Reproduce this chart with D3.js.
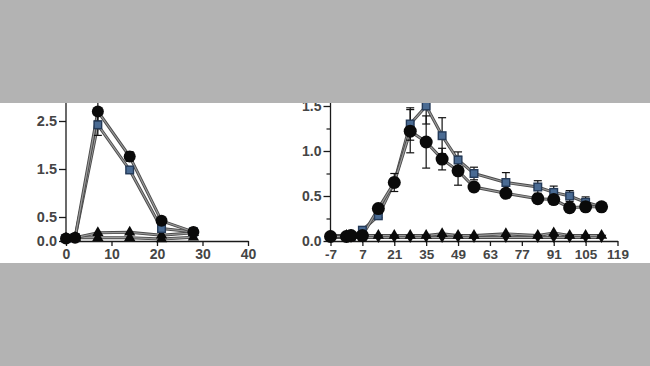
<!DOCTYPE html>
<html><head><meta charset="utf-8">
<script src="https://cdn.jsdelivr.net/npm/d3@7"></script>
<style>body{margin:0;background:#b3b3b3;} svg{display:block;}</style>
</head><body>
<svg id="c" width="650" height="366"></svg>
<script>
// ---- data ----
const leftDays = [0, 2, 7, 14, 21, 28];
const leftCircle = [0.05, 0.07, 2.70, 1.76, 0.42, 0.19];
const leftCircleErr = [0, 0, 0.20, 0.10, 0.07, 0.03];
const leftSquare = [0.05, 0.07, 2.42, 1.48, 0.26, 0.19];
const leftSquareErr = [0, 0, 0.22, 0.06, 0.05, 0.02];
const leftTriA = [0.05, 0.07, 0.17, 0.18, 0.12, 0.17];
const leftTriB = [0.05, 0.07, 0.07, 0.07, 0.04, 0.08];
const leftXTicks = [0, 10, 20, 30, 40];
const leftYTicks = [0.0, 0.5, 1.5, 2.5];

const rightDays = [-7, 0, 2, 7, 14, 21, 28, 35, 42, 49, 56, 70, 84, 91, 98, 105, 112];
const rightCircle = [0.05, 0.05, 0.06, 0.06, 0.36, 0.65, 1.22, 1.10, 0.91, 0.78, 0.60, 0.53, 0.47, 0.46, 0.37, 0.38, 0.38];
const rightCircleErr = [0, 0, 0, 0, 0.04, 0.10, 0.24, 0.29, 0.12, 0.16, 0.05, 0.03, 0.03, 0.04, 0.03, 0.03, 0.02];
const rightSquare = [0.05, 0.05, 0.05, 0.12, 0.28, 0.65, 1.30, 1.50, 1.17, 0.90, 0.75, 0.65, 0.60, 0.54, 0.50, 0.43, 0.38];
const rightSquareErr = [0, 0, 0, 0, 0.02, 0.05, 0.18, 0.20, 0.20, 0.09, 0.07, 0.11, 0.07, 0.07, 0.06, 0.06, 0.02];
const rightTriA = [0.06, 0.06, 0.06, 0.06, 0.06, 0.06, 0.06, 0.06, 0.08, 0.06, 0.06, 0.08, 0.06, 0.09, 0.06, 0.06, 0.06];
const rightTriB = [0.04, 0.04, 0.04, 0.04, 0.04, 0.04, 0.04, 0.04, 0.04, 0.04, 0.04, 0.04, 0.04, 0.04, 0.04, 0.04, 0.04];
const rightXTicks = [-7, 7, 21, 35, 49, 63, 77, 91, 105, 119];
const rightYTicks = [0.0, 0.5, 1.0, 1.5];
const rightYMinor = [0.25, 0.75, 1.25];

// ---- drawing ----
const svg = d3.select("#c");
svg.append("rect").attr("width", 650).attr("height", 366).attr("fill", "#b3b3b3");
svg.append("rect").attr("x", 0).attr("y", 103).attr("width", 650).attr("height", 160).attr("fill", "#ffffff");
svg.append("defs").append("clipPath").attr("id", "band")
  .append("rect").attr("x", 0).attr("y", 103).attr("width", 650).attr("height", 160);
const root = svg.append("g").attr("clip-path", "url(#band)");

const AX = "#1a1a1a", TXT = "#454545", SQ = "#4a6b93", SQS = "#243a58";
const FONT = "'Liberation Sans', Arial, sans-serif";

function panel(cfg) {
  const g = root.append("g");
  const x = cfg.x, y = cfg.y;
  // x axis
  const xa = g.append("g").attr("transform", `translate(0,${y(0)})`)
    .call(d3.axisBottom(x).tickValues(cfg.xTicks).tickSize(5).tickSizeOuter(0).tickPadding(3).tickFormat(d => String(d)));
  xa.select(".domain").attr("stroke", AX).attr("stroke-width", 1.3);
  xa.selectAll(".tick line").attr("stroke", AX).attr("stroke-width", 1.3);
  xa.selectAll("text").attr("fill", TXT).attr("font-family", FONT).attr("font-weight", "bold").attr("font-size", cfg.fs);
  // y axis
  const ya = g.append("g").attr("transform", `translate(${x.range()[0]},0)`)
    .call(d3.axisLeft(y).tickValues(cfg.yTicks).tickSize(7).tickPadding(2).tickFormat(d3.format(".1f")));
  ya.select(".domain").remove();
  ya.selectAll(".tick line").attr("stroke", AX).attr("stroke-width", 1.3);
  ya.selectAll("text").attr("fill", TXT).attr("font-family", FONT).attr("font-weight", "bold").attr("font-size", cfg.fs + 0.5);
  if (cfg.yMinor) {
    g.append("g").attr("transform", `translate(${x.range()[0]},0)`)
      .call(d3.axisLeft(y).tickValues(cfg.yMinor).tickSize(4).tickFormat(""))
      .call(s => { s.select(".domain").remove(); s.selectAll(".tick line").attr("stroke", AX).attr("stroke-width", 1.2); });
  }
  g.append("line").attr("x1", x.range()[0]).attr("x2", x.range()[0])
    .attr("y1", y(0) + 0.6).attr("y2", y(cfg.yTop)).attr("stroke", AX).attr("stroke-width", 1.3);

  const line = d3.line().x(d => x(d[0])).y(d => y(d[1]));
  const series = cfg.series;
  // lines
  series.forEach(s => {
    const pts = cfg.days.map((d, i) => [d, s.v[i]]);
    g.append("path").attr("d", line(pts)).attr("fill", "none").attr("stroke", "#4a4a4a").attr("stroke-width", 3);
    g.append("path").attr("d", line(pts)).attr("fill", "none").attr("stroke", "#9a9a9a").attr("stroke-width", 1.2);
  });
  // error bars
  series.forEach(s => {
    if (!s.e) return;
    cfg.days.forEach((d, i) => {
      if (!s.e[i]) return;
      const cx = x(d), y1 = y(s.v[i] + s.e[i]), y2 = y(s.v[i] - s.e[i]);
      g.append("line").attr("x1", cx).attr("x2", cx).attr("y1", y1).attr("y2", y2).attr("stroke", "#111").attr("stroke-width", 1.2);
      [y1, y2].forEach(yy => g.append("line").attr("x1", cx - 4).attr("x2", cx + 4).attr("y1", yy).attr("y2", yy).attr("stroke", "#111").attr("stroke-width", 1.2));
    });
  });
  // markers
  series.forEach(s => {
    cfg.days.forEach((d, i) => {
      const cx = x(d), cy = y(s.v[i]);
      if (s.shape === "circle") {
        g.append("circle").attr("cx", cx).attr("cy", cy).attr("r", cfg.r).attr("fill", "#0a0a0a");
      } else if (s.shape === "square") {
        g.append("rect").attr("x", cx - 3.8).attr("y", cy - 3.8).attr("width", 7.6).attr("height", 7.6)
          .attr("fill", SQ).attr("stroke", SQS).attr("stroke-width", 1.4);
      } else {
        const sym = d3.symbol().type(d3.symbolTriangle).size(s.shape === "triDown" ? 40 : 55)();
        g.append("path").attr("d", sym)
          .attr("transform", `translate(${cx},${cy})` + (s.shape === "triDown" ? " rotate(180)" : ""))
          .attr("fill", "#0a0a0a");
      }
    });
  });
}

panel({
  x: d3.scaleLinear().domain([0, 40]).range([66, 248]),
  y: d3.scaleLinear().domain([0, 2.5]).range([241, 121]),
  xTicks: leftXTicks, yTicks: leftYTicks, yTop: 3.0, r: 6, fs: 14,
  days: leftDays,
  series: [
    { v: leftTriB, shape: "tri" },
    { v: leftTriA, shape: "tri" },
    { v: leftSquare, e: leftSquareErr, shape: "square" },
    { v: leftCircle, e: leftCircleErr, shape: "circle" }
  ]
});

panel({
  x: d3.scaleLinear().domain([-7, 119]).range([330.5, 617.5]),
  y: d3.scaleLinear().domain([0, 1.5]).range([241, 106]),
  xTicks: rightXTicks, yTicks: rightYTicks, yMinor: rightYMinor, yTop: 1.6, r: 6.5, fs: 13.5,
  days: rightDays,
  series: [
    { v: rightTriB, shape: "triDown" },
    { v: rightTriA, shape: "tri" },
    { v: rightSquare, e: rightSquareErr, shape: "square" },
    { v: rightCircle, e: rightCircleErr, shape: "circle" }
  ]
});
</script>
</body></html>
